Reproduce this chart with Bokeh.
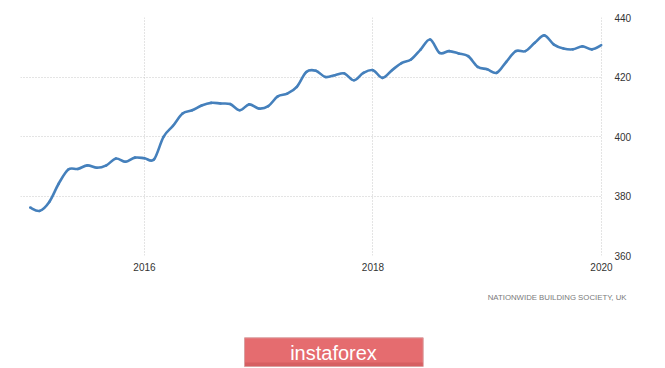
from bokeh.plotting import figure
from bokeh.layouts import column
from bokeh.models import Range1d, FixedTicker, LinearAxis, CustomJSTickFormatter
from bokeh.core.properties import value
from bokeh.embed import file_html
from bokeh.resources import INLINE

# Monthly data Jan 2015 .. Jan 2020
start_year = 2015
values = [
    376.1, 375.0, 378.0, 384.2, 388.9, 389.1, 390.3, 389.5, 390.3, 392.6, 391.5, 392.9,  # 2015
    392.7, 392.3, 399.9, 403.6, 407.7, 408.8, 410.4, 411.3, 411.1, 410.9, 408.8, 410.8,  # 2016
    409.4, 410.2, 413.5, 414.4, 416.7, 421.7, 422.1, 420.0, 420.6, 421.2, 418.9, 421.4,  # 2017
    422.3, 419.7, 422.3, 424.7, 425.9, 429.2, 432.6, 428.1, 428.7, 427.9, 427.0, 423.4,  # 2018
    422.6, 421.4, 425.1, 428.7, 428.7, 431.5, 434.0, 430.9, 429.6, 429.3, 430.3, 429.3,  # 2019
    430.7,                                                                              # 2020
]
x_ticks = [2016, 2018, 2020]
y_ticks = [360, 380, 400, 420, 440]
source_text = "NATIONWIDE BUILDING SOCIETY, UK"
brand_text = "instaforex"

xs = [start_year + i / 12.0 for i in range(len(values))]

TOP_H = 283
p = figure(width=665, height=TOP_H, output_backend="svg", toolbar_location=None,
           x_range=Range1d(2014.915, 2020.009), y_range=Range1d(360, 440),
           frame_width=582, frame_height=238,
           min_border_left=20, min_border_right=63, min_border_top=17, min_border_bottom=28,
           x_axis_location="below", y_axis_location=None)
p.frame_align = False
p.outline_line_color = None
p.background_fill_color = "white"
p.border_fill_color = "white"

# smooth curve through the monthly points (Catmull-Rom -> cubic Bezier)
n = len(xs)
x0, y0, x1, y1, cx0, cy0, cx1, cy1 = [], [], [], [], [], [], [], []
for i in range(n - 1):
    xa_, ya_ = xs[max(i - 1, 0)], values[max(i - 1, 0)]
    xb, yb = xs[i], values[i]
    xc, yc = xs[i + 1], values[i + 1]
    xd, yd = xs[min(i + 2, n - 1)], values[min(i + 2, n - 1)]
    x0.append(xb); y0.append(yb); x1.append(xc); y1.append(yc)
    cx0.append(xb + (xc - xa_) / 6.0); cy0.append(yb + (yc - ya_) / 6.0)
    cx1.append(xc - (xd - xb) / 6.0); cy1.append(yc - (yd - yb) / 6.0)
p.bezier(x0=x0, y0=y0, x1=x1, y1=y1, cx0=cx0, cy0=cy0, cx1=cx1, cy1=cy1,
         line_color="#4580bc", line_width=2.6, line_cap="round")

# bottom axis
xa = p.xaxis[0]
xa.ticker = FixedTicker(ticks=x_ticks)
xa.formatter = CustomJSTickFormatter(code="return tick.toFixed(0);")
xa.axis_line_color = None
xa.major_tick_line_color = None
xa.minor_tick_line_color = None
xa.major_tick_out = 0
xa.major_label_standoff = 7
xa.major_label_text_font = "Liberation Sans"
xa.major_label_text_font_size = "10px"
xa.major_label_text_color = "#333333"

# right axis
ya = LinearAxis(ticker=FixedTicker(ticks=y_ticks))
ya.axis_line_color = None
ya.major_tick_line_color = None
ya.minor_tick_line_color = None
ya.major_tick_out = 0
ya.major_label_standoff = 12
ya.major_label_text_font = "Liberation Sans"
ya.major_label_text_font_size = "10px"
ya.major_label_text_color = "#333333"
p.add_layout(ya, "right")

p.xgrid.ticker = FixedTicker(ticks=x_ticks)
p.ygrid.ticker = FixedTicker(ticks=y_ticks)
for g in (p.xgrid[0], p.ygrid[0]):
    g.grid_line_color = "#c8c8c8"
    g.grid_line_dash = "1 2"
    g.grid_line_width = 1

# footer: source note and brand button (coordinates = page pixels)
f = figure(width=665, height=368 - TOP_H, output_backend="svg", toolbar_location=None,
           x_range=Range1d(0, 665), y_range=Range1d(368, TOP_H),
           min_border=0, x_axis_location=None, y_axis_location=None)
f.frame_align = False
f.outline_line_color = None
f.grid.visible = False
f.background_fill_color = "white"
f.border_fill_color = "white"

f.text(x=[626], y=[296.7], text=[source_text], text_align="right", text_baseline="middle",
       text_font=value("Liberation Sans"), text_font_size="7.8px", text_color="#7a7a7a")
f.quad(left=[244], right=[422.7], top=[337.3], bottom=[366], fill_color="#e56c6f",
       line_color="#d9a0a1", line_width=1)
f.quad(left=[244.5], right=[422.2], top=[362], bottom=[365.5], fill_color="#d65f62",
       line_color=None)
f.text(x=[333], y=[352], text=[brand_text], text_align="center", text_baseline="middle",
       text_font=value("Liberation Sans"), text_font_size="20px", text_color="white")

layout = column(p, f, spacing=0)
open("out.html", "w").write(file_html(layout, INLINE))
